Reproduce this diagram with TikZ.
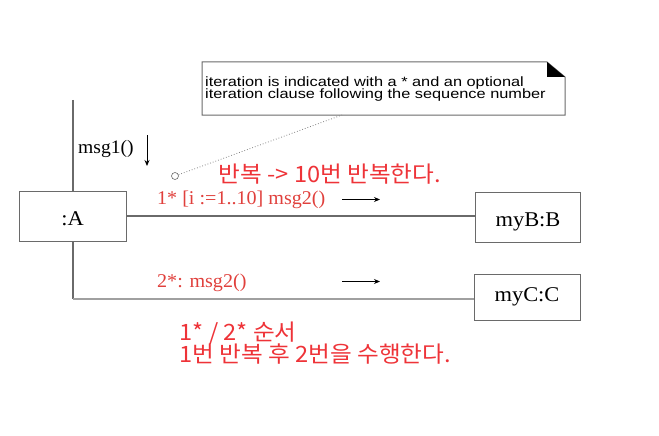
\documentclass[tikz,border=0pt]{standalone}
\usepackage{fontspec}
\setmainfont{Liberation Serif}
\newfontfamily\notefont{Liberation Sans}
\newfontfamily\krfont{Noto Sans CJK KR}
\usetikzlibrary{arrows.meta}
\definecolor{linegray}{HTML}{6A6A6A}
\definecolor{lightline}{HTML}{A0A0A0}
\definecolor{krred}{HTML}{EE3338}
\definecolor{msgred}{HTML}{E0403C}
\newcommand{\wide}[2]{\scalebox{#1}[1]{#2}}
\tikzset{
  obj/.style={draw=linegray, line width=1pt, fill=white, minimum width=106pt, minimum height=50pt, inner sep=0pt, text depth=0pt, font=\fontsize{21}{24}\selectfont},
  link/.style={draw=linegray, line width=1.2pt},
  msg/.style={text=msgred, font=\fontsize{19.5}{22}\selectfont, inner sep=0pt, anchor=base west},
  kr/.style={text=krred, font=\krfont\fontsize{22.5}{27}\selectfont, inner sep=0pt, anchor=base west},
  notetxt/.style={font=\notefont\fontsize{13.5}{15}\selectfont, inner sep=0pt, anchor=base west},
  dirarrow/.style={-{Stealth[length=6pt,width=5pt]}, line width=0.9pt, black},
}
\begin{document}
\begin{tikzpicture}[x=1pt,y=-1pt]
\useasboundingbox (0,0) rectangle (659,436);
% objects
\node[obj, minimum width=107pt, text height=18.4pt] (A) at (72.5,216) {\wide{1.07}{:A}};
\node[obj, minimum width=105pt, text height=19.4pt] (B) at (528,217) {\wide{1.07}{myB:B}};
\node[obj, minimum width=106pt, minimum height=46pt, text height=9.4pt] (C) at (527,297) {\wide{1.07}{myC:C}};
\coordinate (top) at (73,100);
\coordinate (corner) at (73,299);
% links
\draw[link] (top) -- (top |- A.north);
\draw[link] (A.east) -- (A.east -| B.west);
\draw[link] (top |- A.south) -- (corner);
\draw[draw=lightline, line width=1.4pt] (corner) -- (corner -| C.west);
% note
\coordinate (n1) at (202,62);
\coordinate (n2) at (547,62);
\coordinate (n3) at (565,77);
\coordinate (n4) at (565,115);
\coordinate (n5) at (202,115);
\draw[draw=linegray, line width=1pt, fill=white] (n1) -- (n2) -- (n3) -- (n4) -- (n5) -- cycle;
\fill[black] (n2) -- (547,77) -- (n3) -- cycle;
\node[notetxt] (note1) at (205,86.5) {\wide{1.21}{iteration is indicated with a * and an optional}};
\node[notetxt] (note2) at (205,99) {\wide{1.21}{iteration clause following the sequence number}};
% anchor circle and dotted line
\node[circle, draw=linegray, line width=0.6pt, minimum size=7pt, inner sep=0pt] (anc) at (175,176) {};
\coordinate (noteend) at (342,115);
\draw[lightline!80!black, dotted, line width=0.8pt] (anc) -- (noteend);
% msg1
\node[font=\fontsize{19}{22}\selectfont, anchor=base west, inner sep=0pt] (m1) at (78,153.7) {\wide{1.03}{msg1()}};
\coordinate (d1) at (147,135);
\coordinate (d2) at (147,166);
\draw[dirarrow] (d1) -- (d2);
% messages
\node[msg] (m2) at (157,204.3) {\wide{1.03}{1* [i :=1..10] msg2()}};
\coordinate (a1) at (342,199.5);
\coordinate (a2) at (380,199.5);
\draw[dirarrow] (a1) -- (a2);
\node[msg] (m3) at (157,287.3) {\wide{1.03}{2*: msg2()}};
\coordinate (b1) at (342,281.5);
\coordinate (b2) at (380,281.5);
\draw[dirarrow] (b1) -- (b2);
% korean notes
\node[kr] (k1) at (218.5,182.3) {\wide{1.05}{반복 -> 10번 반복한다.}};
\node[kr] (k2) at (179.5,340) {\wide{1.05}{1* / 2* 순서}};
\node[kr] (k3) at (179.5,362.7) {\wide{1.05}{1번 반복 후 2번을 수행한다.}};
\end{tikzpicture}
\end{document}
